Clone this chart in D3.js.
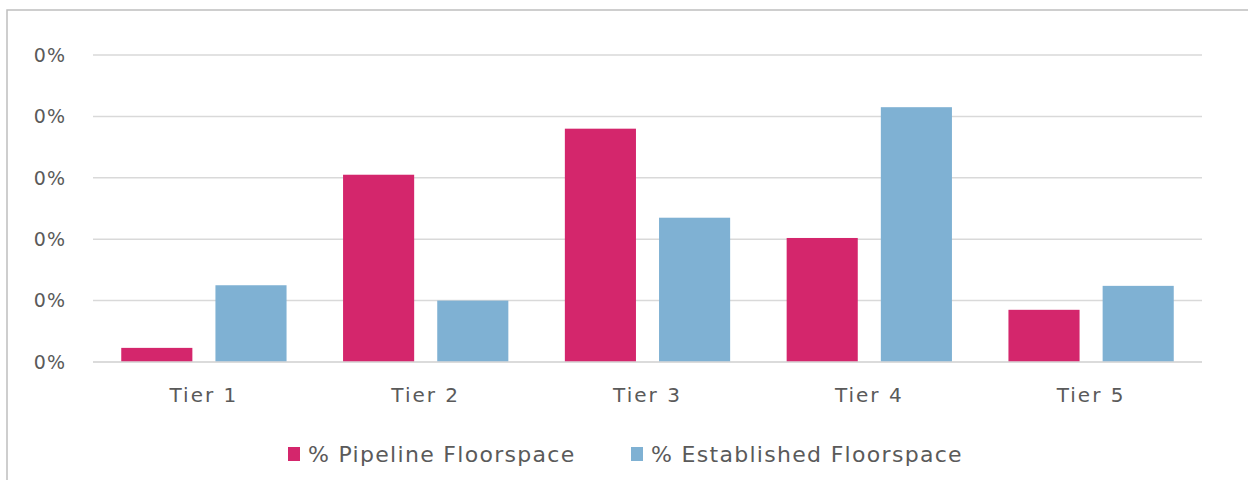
<!DOCTYPE html>
<html lang="en">
<head>
<meta charset="UTF-8">
<title>Floorspace by Tier</title>
<script src="https://d3js.org/d3.v7.min.js"></script>
<style>
    body { margin: 0; background: #fff; }
    text { font-family: "DejaVu Sans", sans-serif; fill: #5a5a5a; }
    .grid line { stroke: #d9d9d9; stroke-width: 1.5; }
</style>
</head>
<body>
<svg id="chart" width="1248" height="480"></svg>
<script>
    const tiers = ['Tier 1', 'Tier 2', 'Tier 3', 'Tier 4', 'Tier 5'];
    const seriesNames = ['% Pipeline Floorspace', '% Established Floorspace'];
    const pipeline = [2.3, 30.5, 38.0, 20.2, 8.5];
    const established = [12.5, 10.0, 23.5, 41.5, 12.4];
    const yTicks = [0, 10, 20, 30, 40, 50];
    const colors = ['#d4266c', '#7fb1d3'];

    const svg = d3.select('#chart');
    const margin = { left: 93, right: 46, top: 55, bottom: 118 };
    const width = 1248, height = 480;

    // outer frame (left and top edges visible in the reference)
    svg.append('path')
        .attr('d', `M7,${height} L7,10 L${width},10`)
        .attr('fill', 'none')
        .attr('stroke', '#bfbfbf')
        .attr('stroke-width', 1.5);

    const x = d3.scaleBand()
        .domain(tiers)
        .range([margin.left, width - margin.right]);

    const x1 = d3.scaleBand()
        .domain([0, 1])
        .range([0, x.bandwidth()])
        .paddingInner(0.245)
        .paddingOuter(0.3);

    const y = d3.scaleLinear()
        .domain([0, 50])
        .range([height - margin.bottom, margin.top]);

    // gridlines
    svg.append('g')
        .attr('class', 'grid')
        .selectAll('line')
        .data(yTicks)
        .join('line')
        .attr('x1', margin.left)
        .attr('x2', width - margin.right)
        .attr('y1', d => y(d))
        .attr('y2', d => y(d));

    // y labels, clipped on the left like the source image
    svg.append('clipPath').attr('id', 'yclip')
        .append('rect').attr('x', 34).attr('y', 0).attr('width', 60).attr('height', height);

    svg.append('g')
        .attr('clip-path', 'url(#yclip)')
        .selectAll('text')
        .data(yTicks)
        .join('text')
        .attr('x', 66)
        .attr('y', d => y(d))
        .attr('dy', '0.36em')
        .attr('text-anchor', 'end')
        .style('font-size', '19px')
        .style('letter-spacing', '1px')
        .text(d => d + '%');

    // bars
    const rows = tiers.map((t, i) => ({ tier: t, values: [pipeline[i], established[i]] }));

    svg.append('g')
        .selectAll('g')
        .data(rows)
        .join('g')
        .attr('transform', d => `translate(${x(d.tier)},0)`)
        .selectAll('rect')
        .data(d => d.values.map((v, k) => ({ k, v })))
        .join('rect')
        .attr('x', d => x1(d.k))
        .attr('width', x1.bandwidth())
        .attr('y', d => y(d.v))
        .attr('height', d => y(0) - y(d.v))
        .attr('fill', d => colors[d.k]);

    // baseline drawn over bars
    svg.append('line')
        .attr('x1', margin.left).attr('x2', width - margin.right)
        .attr('y1', y(0)).attr('y2', y(0))
        .attr('stroke', '#d9d9d9').attr('stroke-width', 1.5);

    // category labels
    svg.append('g')
        .selectAll('text')
        .data(tiers)
        .join('text')
        .attr('x', d => x(d) + x.bandwidth() / 2)
        .attr('y', y(0) + 40)
        .attr('text-anchor', 'middle')
        .style('font-size', '20px')
        .style('letter-spacing', '2px')
        .text(d => d);

    // legend
    const legendX = [288, 631];
    const legend = svg.append('g')
        .selectAll('g')
        .data(seriesNames)
        .join('g')
        .attr('transform', (d, i) => `translate(${legendX[i]},447)`);

    legend.append('rect')
        .attr('width', 12).attr('height', 14)
        .attr('fill', (d, i) => colors[i]);

    legend.append('text')
        .attr('x', 20)
        .attr('y', 15)
        .style('font-size', '22px')
        .style('letter-spacing', '1.3px')
        .text(d => d);
</script>
</body>
</html>
